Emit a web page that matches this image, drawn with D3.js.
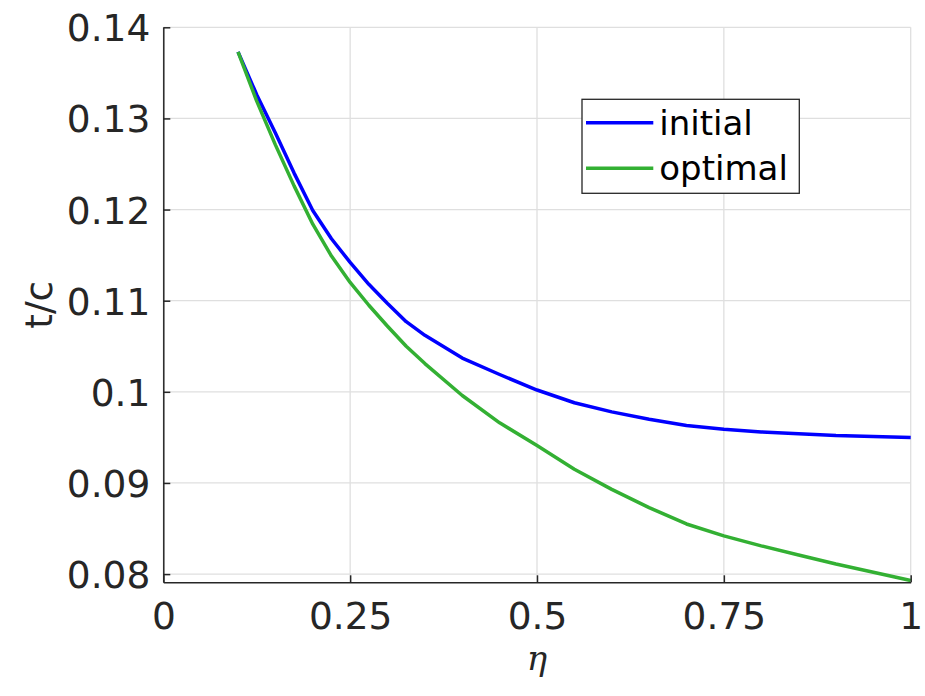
<!DOCTYPE html>
<html>
<head>
<meta charset="utf-8">
<script src="https://cdn.jsdelivr.net/npm/d3@7"></script>
<style>
  body { margin: 0; background: #fff; }
  svg { display: block; font-family: "DejaVu Sans", sans-serif; }
</style>
</head>
<body>
<div id="chart"></div>
<script>
// data
var eta = [0.1, 0.125, 0.15, 0.175, 0.2, 0.225, 0.25, 0.275, 0.3, 0.325, 0.35, 0.4, 0.45, 0.5,
           0.55, 0.6, 0.65, 0.7, 0.75, 0.8, 0.85, 0.9, 0.95, 1.0];
var initial = [0.1373, 0.1326, 0.1284, 0.1240, 0.1199, 0.1168, 0.1142, 0.1118, 0.1097, 0.1077, 0.1062,
               0.1037, 0.1019, 0.1002, 0.0988, 0.0978, 0.0970, 0.0963, 0.0959, 0.0956, 0.0954,
               0.0952, 0.0951, 0.0950];
var optimal = [0.1373, 0.1319, 0.1271, 0.1226, 0.1184, 0.1149, 0.1120, 0.1095, 0.1072, 0.1050, 0.1031,
               0.0996, 0.0966, 0.0941, 0.0915, 0.0893, 0.0873, 0.0855, 0.0842, 0.0831, 0.0821,
               0.0811, 0.0802, 0.0793];
var seriesNames = ["initial", "optimal"];
var seriesColors = ["#0000ff", "#33b033"];
var xTicks = [0, 0.25, 0.5, 0.75, 1];
var xTickLabels = ["0", "0.25", "0.5", "0.75", "1"];
var yTicks = [0.08, 0.09, 0.1, 0.11, 0.12, 0.13, 0.14];
var yTickLabels = ["0.08", "0.09", "0.1", "0.11", "0.12", "0.13", "0.14"];

var W = 925, H = 696;
var margin = {top: 27.3, right: 14.3, bottom: 113.7, left: 163.3};
var width = W - margin.left - margin.right,
    height = H - margin.top - margin.bottom;

var svg = d3.select("#chart").append("svg")
    .attr("width", W)
    .attr("height", H);
var g = svg.append("g")
    .attr("transform", "translate(" + margin.left + "," + margin.top + ")");

var x = d3.scaleLinear().domain([0, 1]).range([0, width]);
var y = d3.scaleLinear().domain([0.0791, 0.14]).range([height, 0]);

// grid
g.append("g").selectAll("line").data(xTicks).enter().append("line")
    .attr("x1", function(d) { return x(d); }).attr("x2", function(d) { return x(d); })
    .attr("y1", 0).attr("y2", height)
    .style("stroke", "#dfdfdf").style("stroke-width", 1.3);
g.append("g").selectAll("line").data(yTicks).enter().append("line")
    .attr("x1", 0).attr("x2", width)
    .attr("y1", function(d) { return y(d); }).attr("y2", function(d) { return y(d); })
    .style("stroke", "#dfdfdf").style("stroke-width", 1.3);

// lines
var lineGen = d3.line()
    .x(function(d) { return x(d[0]); })
    .y(function(d) { return y(d[1]); });
[initial, optimal].forEach(function(vals, i) {
    g.append("path")
        .datum(eta.map(function(e, j) { return [e, vals[j]]; }))
        .attr("d", lineGen)
        .style("fill", "none")
        .style("stroke", seriesColors[i])
        .style("stroke-width", 3.5)
        .style("stroke-linejoin", "round");
});

// axes (inward ticks, matlab style)
var xAxis = g.append("g")
    .attr("transform", "translate(0," + height + ")")
    .call(d3.axisBottom(x).tickValues(xTicks)
        .tickFormat(function(d, i) { return xTickLabels[i]; })
        .tickSizeInner(-7).tickSizeOuter(0).tickPadding(20));
var yAxis = g.append("g")
    .call(d3.axisLeft(y).tickValues(yTicks)
        .tickFormat(function(d, i) { return yTickLabels[i]; })
        .tickSizeInner(-7).tickSizeOuter(0).tickPadding(13));
[xAxis, yAxis].forEach(function(ax) {
    ax.select(".domain").style("stroke", "#262626").style("stroke-width", 1.5);
    ax.selectAll(".tick line").style("stroke", "#262626").style("stroke-width", 1.5);
    ax.selectAll(".tick text")
        .style("font-family", "DejaVu Sans")
        .style("font-size", "37.5px")
        .style("fill", "#262626");
});
yAxis.selectAll(".tick text").attr("dy", "0.36em");
xAxis.selectAll(".tick text").attr("dy", "0.72em");

// axis titles
svg.append("text")
    .attr("transform", "translate(52," + (margin.top + height / 2) + ") rotate(-90)")
    .attr("text-anchor", "middle")
    .style("font-size", "37.5px")
    .style("fill", "#262626")
    .text("t/c");
svg.append("text")
    .attr("x", margin.left + width / 2)
    .attr("y", 670)
    .attr("text-anchor", "middle")
    .style("font-family", "DejaVu Serif")
    .style("font-style", "italic")
    .style("font-size", "34px")
    .style("fill", "#262626")
    .text("η");

// legend
var legend = svg.append("g");
legend.append("rect")
    .attr("x", 582).attr("y", 99.3).attr("width", 217.3).attr("height", 94)
    .style("fill", "#fff").style("stroke", "#262626").style("stroke-width", 1.3);
seriesNames.forEach(function(name, i) {
    var ly = 122.7 + i * 45.6;
    legend.append("line")
        .attr("x1", 586).attr("x2", 653.3).attr("y1", ly).attr("y2", ly)
        .style("stroke", seriesColors[i]).style("stroke-width", 3.5);
    legend.append("text")
        .attr("x", 659.3).attr("y", ly).attr("dy", "0.35em")
        .style("font-size", "34px")
        .style("fill", "#000")
        .text(name);
});
</script>
</body>
</html>
